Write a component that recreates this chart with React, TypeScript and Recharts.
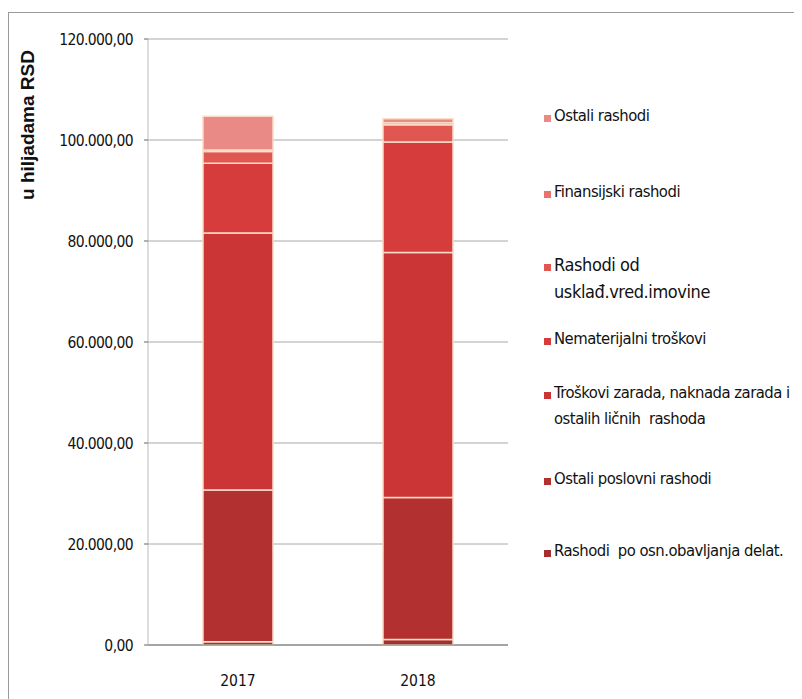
import React from "react";
import { BarChart, Bar, XAxis, YAxis, CartesianGrid } from "recharts";

const years = ["2017", "2018"];
const rashodiPoOsn = [650, 1100];
const ostaliPoslovni = [30050, 28100];
const troskoviZarada = [50900, 48500];
const nematerijalni = [13800, 21900];
const usklad = [2300, 3400];
const finansijski = [300, 400];
const ostaliRashodi = [6700, 800];
const yTicks = [0, 20000, 40000, 60000, 80000, 100000, 120000];

const series = [
  { key: "osn", name: "Rashodi  po osn.obavljanja delat.", values: rashodiPoOsn, color: "#a52f2f" },
  { key: "posl", name: "Ostali poslovni rashodi", values: ostaliPoslovni, color: "#b33030" },
  { key: "zar", name: "Troškovi zarada, naknada zarada i\nostalih ličnih  rashoda", values: troskoviZarada, color: "#cc3535" },
  { key: "nem", name: "Nematerijalni troškovi", values: nematerijalni, color: "#d63c3c" },
  { key: "usk", name: "Rashodi od\nusklađ.vred.imovine", values: usklad, color: "#e05752" },
  { key: "fin", name: "Finansijski rashodi", values: finansijski, color: "#e87470" },
  { key: "ost", name: "Ostali rashodi", values: ostaliRashodi, color: "#e98a86" },
];

// legend item vertical centers (page layout), top item first
const legendTops = { ost: 103, fin: 179, usk: 251, nem: 326, zar: 380, posl: 466, osn: 538 };

const data = years.map((y, i) => {
  const row: any = { year: y };
  series.forEach((s) => (row[s.key] = s.values[i]));
  return row;
});

const fmt = (v: number) =>
  v.toLocaleString("de-DE", { minimumFractionDigits: 2, maximumFractionDigits: 2 });

const narrow = "'DejaVu Sans Condensed', 'Liberation Sans Narrow', sans-serif";

export default function App() {
  return (
    <div
      style={{
        position: "relative",
        marginTop: 4,
        width: 800,
        height: 700,
        borderTop: "1px solid #9a9a9a",
        borderLeft: "1px solid #9a9a9a",
        background: "#fff",
        fontFamily: narrow,
      }}
    >
      <BarChart
        width={790}
        height={686}
        data={data}
        margin={{ top: 26, right: 291, bottom: 24, left: 0 }}
        barSize={70}
      >
        <CartesianGrid vertical={false} stroke="#a8a8a8" strokeWidth={1} />
        <XAxis
          dataKey="year"
          tickLine={false}
          axisLine={{ stroke: "#777" }}
          tickMargin={24}
          height={30}
          tick={{ fill: "#111", fontSize: 15.5, fontFamily: narrow }}
        />
        <YAxis
          width={139}
          domain={[0, 120000]}
          ticks={yTicks}
          tickFormatter={fmt}
          tickSize={4}
          tickMargin={11}
          axisLine={{ stroke: "#bbb" }}
          tickLine={{ stroke: "#666" }}
          tick={{ fill: "#111", fontSize: 15.5, fontFamily: narrow, letterSpacing: -0.6 }}
          label={{
            content: () => (
              <text
                x={20}
                y={112}
                transform="rotate(-90 20 112)"
                textAnchor="middle"
                dominantBaseline="middle"
                style={{ fontFamily: "'Liberation Sans', Arial, sans-serif", fontWeight: 700, fontSize: 19, fill: "#111" }}
              >
                u hiljadama RSD
              </text>
            ),
          }}
        />
        {series.map((s) => (
          <Bar
            key={s.key}
            dataKey={s.key}
            name={s.name}
            stackId="a"
            fill={s.color}
            stroke="#fbdcc6"
            strokeWidth={1.5}
            isAnimationActive={false}
          />
        ))}
      </BarChart>
      {series.map((s) => (
        <div
          key={s.key}
          style={{
            position: "absolute",
            left: 535,
            top: (legendTops as any)[s.key] - 10,
            display: "flex",
            alignItems: "flex-start",
            fontSize: s.key === "usk" ? 18 : 16.5,
            letterSpacing: s.key === "usk" ? -0.4 : -0.5,
            lineHeight: s.key === "usk" ? "27px" : "26px",
            color: "#111",
            whiteSpace: "pre",
          }}
        >
          <span
            style={{
              display: "inline-block",
              width: 7,
              height: 7,
              background: s.color,
              marginTop: s.key === "usk" ? 10 : 9,
              marginRight: 3,
            }}
          />
          <span style={{ marginTop: -3 }}>{s.name}</span>
        </div>
      ))}
    </div>
  );
}
